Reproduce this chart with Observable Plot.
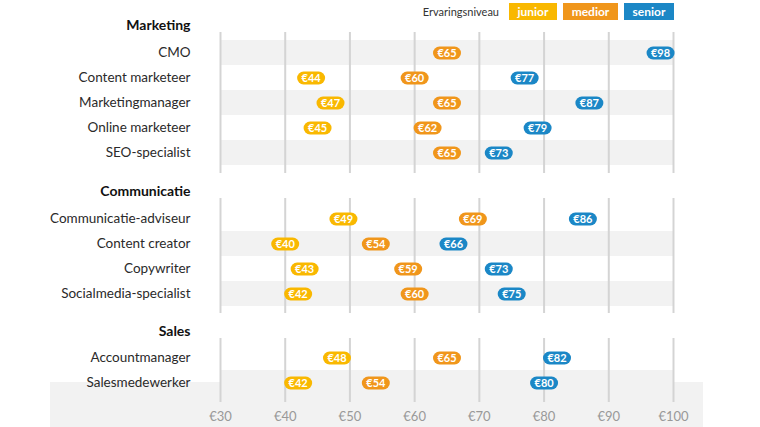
<!DOCTYPE html>
<html>
<head>
<meta charset="utf-8">
<script src="https://cdn.jsdelivr.net/npm/d3@7"></script>
<script src="https://cdn.jsdelivr.net/npm/@observablehq/plot@0.6"></script>
<style>
  body { margin: 0; background: #fff; font-family: Lato, "Open Sans", sans-serif; }
  #wrap { position: relative; width: 760px; height: 427px; overflow: hidden; }
  #floor { position: absolute; left: 50px; top: 382px; width: 653px; height: 45px; background: #f2f2f2; }
  #charts { position: absolute; left: 0; top: 0; }
  #charts svg { display: block; }
  #legend { position: absolute; top: 3px; right: 86px; display: flex; align-items: center; gap: 6px; }
  #legend .title { font-size: 11px; color: #333; margin-right: 4px; }
  #legend .key { height: 17px; line-height: 17px; text-align: center; color: #fff; font-weight: bold; font-size: 12px; }
</style>
</head>
<body>
<div id="wrap">
  <div id="floor"></div>
  <div id="charts"></div>
  <div id="legend"></div>
</div>
<script>
// ---- data ----
const groups = ["Marketing", "Communicatie", "Sales"];

const marketingRoles = ["CMO", "Content marketeer", "Marketingmanager", "Online marketeer", "SEO-specialist"];
const marketingJunior = [null, 44, 47, 45, null];
const marketingMedior = [65, 60, 65, 62, 65];
const marketingSenior = [98, 77, 87, 79, 73];

const communicatieRoles = ["Communicatie-adviseur", "Content creator", "Copywriter", "Socialmedia-specialist"];
const communicatieJunior = [49, 40, 43, 42];
const communicatieMedior = [69, 54, 59, 60];
const communicatieSenior = [86, 66, 73, 75];

const salesRoles = ["Accountmanager", "Salesmedewerker"];
const salesJunior = [48, 42];
const salesMedior = [65, 54];
const salesSenior = [82, 80];

const levels = ["junior", "medior", "senior"];
const levelColors = ["#f9b800", "#f0961b", "#1b87c6"];
const legendTitle = "Ervaringsniveau";

const xDomain = [30, 100];
const xTicks = [30, 40, 50, 60, 70, 80, 90, 100];

// ---- build ----
const groupRoles = [marketingRoles, communicatieRoles, salesRoles];
const groupSeries = [
  [marketingJunior, marketingMedior, marketingSenior],
  [communicatieJunior, communicatieMedior, communicatieSenior],
  [salesJunior, salesMedior, salesSenior]
];

// pill symbol
const pill = {
  draw(ctx) {
    const h = 6.5, s = 7.5;
    ctx.moveTo(-s, -h);
    ctx.lineTo(s, -h);
    ctx.arc(s, 0, h, -Math.PI / 2, Math.PI / 2);
    ctx.lineTo(-s, h);
    ctx.arc(-s, 0, h, Math.PI / 2, 3 * Math.PI / 2);
    ctx.closePath();
  }
};

const layout = [
  {height: 173, marginTop: 32, marginBottom: 0},
  {height: 140, marginTop: 25, marginBottom: 0},
  {height: 114, marginTop: 25, marginBottom: 25}
];

const charts = document.getElementById("charts");
let offset = 0;
groups.forEach((g, gi) => {
  const roles = groupRoles[gi];
  const points = [];
  levels.forEach((lvl, li) => {
    groupSeries[gi][li].forEach((v, ri) => {
      if (v != null) points.push({role: roles[ri], level: lvl, value: v});
    });
  });
  const shaded = roles.filter((r, i) => (i + offset) % 2 === 0);
  offset += roles.length;
  const last = gi === groups.length - 1;
  const L = layout[gi];

  const marks = [
    Plot.barX(shaded, {x1: () => xDomain[0], x2: () => xDomain[1], y: d => d, fill: "#f2f2f2"}),
    Plot.ruleX(xTicks, {stroke: "#d4d4d4", strokeWidth: 2}),
    Plot.axisY({tickSize: 0, tickPadding: 30, label: null, color: "#2a2a2a", fontSize: 13.5}),
    Plot.text([g], {frameAnchor: "top-left", text: d => d, dx: -30, dy: -7, textAnchor: "end",
      lineAnchor: "middle", fontWeight: "bold", fontSize: 14, fill: "#111"}),
    Plot.dot(points, {x: "value", y: "role", fill: "level", symbol: pill, r: 5, stroke: null}),
    Plot.text(points, {x: "value", y: "role", text: d => "€" + d.value, fill: "white",
      fontWeight: "bold", fontSize: 11})
  ];
  if (last) {
    marks.push(Plot.axisX({anchor: "bottom", ticks: xTicks, tickSize: 0, tickPadding: 9,
      tickFormat: d => "€" + d, label: null, color: "#999", fontSize: 13}));
  }

  const svg = Plot.plot({
    width: 760,
    height: L.height,
    marginLeft: 220,
    marginRight: 87,
    marginTop: L.marginTop,
    marginBottom: L.marginBottom,
    style: {fontFamily: "Lato, 'Open Sans', sans-serif", background: "transparent", overflow: "visible"},
    x: {domain: xDomain, axis: null},
    y: {type: "band", domain: roles, paddingInner: 0, paddingOuter: 0.233, axis: null},
    color: {domain: levels, range: levelColors},
    marks
  });
  charts.appendChild(svg);
});

// legend
const legendWidths = [48, 55, 50];
const legend = document.getElementById("legend");
const t = document.createElement("span");
t.className = "title";
t.textContent = legendTitle;
legend.appendChild(t);
levels.forEach((lvl, i) => {
  const k = document.createElement("span");
  k.className = "key";
  k.style.background = levelColors[i];
  k.style.width = legendWidths[i] + "px";
  k.textContent = lvl;
  legend.appendChild(k);
});
</script>
</body>
</html>
